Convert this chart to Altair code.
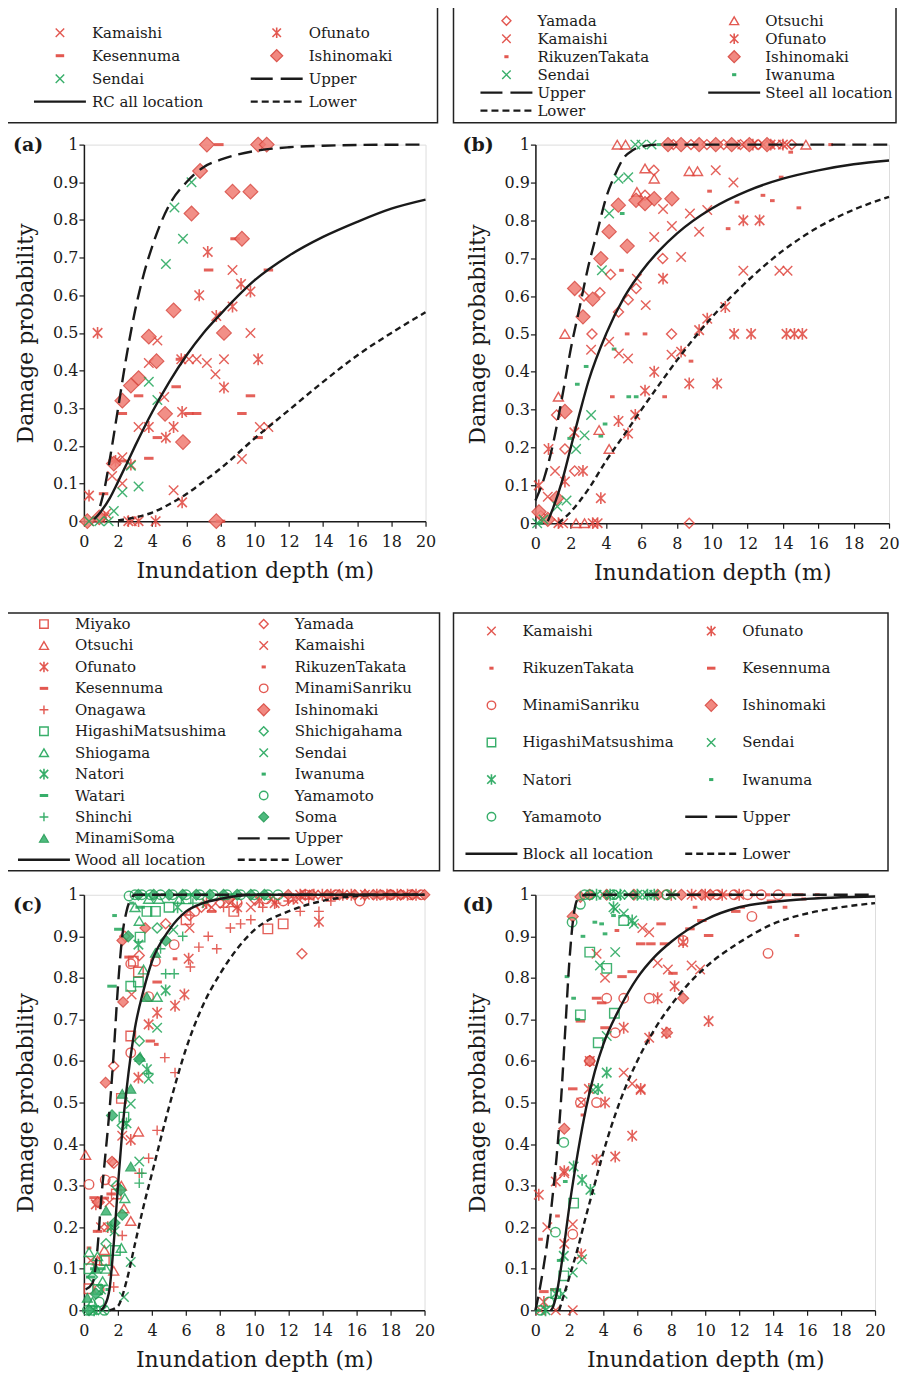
import altair as alt
import pandas as pd

FONT = "DejaVu Serif"
INK = "#1a1a1a"
RED = "#e0463e"
RED_D = "#d8453c"
RED_F = "#f07c73"
GREEN = "#22a65a"
GREEN_D = "#1f9a52"
GREEN_F = "#3cb371"

# ---------------- tick labels ----------------
X_TICKS = [0, 2, 4, 6, 8, 10, 12, 14, 16, 18, 20]
Y_TICKS = [0, 0.1, 0.2, 0.3, 0.4, 0.5, 0.6, 0.7, 0.8, 0.9, 1]

# ---------------- panel (a) RC ----------------
A_KAMAISHI = [(4.3,0.48),(3.8,0.42),(6.15,0.43),(6.6,0.43),(7.2,0.42),(8.2,0.43),(7.7,0.39),(8.7,0.667),(9.75,0.5),(9.25,0.165),(10.3,0.25),(10.8,0.25),(3.2,0.25),(4.7,0.33),(5.25,0.082),(2.25,0.1),(1.65,0.12),(2.25,0.17),(1.3,0.02),(0.3,0.0),(2.8,0.0)]
A_OFUNATO = [(7.25,0.715),(6.75,0.6),(7.75,0.545),(8.7,0.57),(9.2,0.63),(9.75,0.61),(10.2,0.43),(8.2,0.355),(5.7,0.43),(4.8,0.222),(5.25,0.25),(3.8,0.25),(5.75,0.05),(0.8,0.5),(0.3,0.068),(1.85,0.16),(2.6,0.0),(3.2,0.0),(4.2,0.0),(1.2,0.01),(5.75,0.29),(2.75,0.15)]
A_KESENNUMA = [(7.3,0.667),(8.85,0.75),(7.9,1.0),(9.75,0.333),(9.25,0.286),(5.4,0.357),(6.15,0.286),(6.6,0.286),(3.2,0.333),(2.25,0.286),(3.8,0.167),(4.3,0.222),(5.65,0.43),(1.7,0.16),(2.2,0.16),(10.8,0.667),(10.2,0.222),(1.15,0.073),(8.0,0.0)]
A_ISHINOMAKI = [(7.2,1.0),(10.2,1.0),(10.7,1.0),(6.8,0.93),(8.7,0.875),(9.75,0.875),(6.3,0.817),(9.25,0.75),(5.25,0.56),(8.2,0.5),(3.8,0.49),(4.25,0.425),(3.2,0.38),(2.75,0.36),(2.25,0.32),(4.75,0.285),(5.8,0.21),(1.75,0.153),(7.75,0.0),(0.9,0.01),(0.2,0.0)]
A_SENDAI = [(6.3,0.9),(5.3,0.833),(5.8,0.75),(4.8,0.683),(3.8,0.37),(4.3,0.322),(2.75,0.147),(2.25,0.077),(3.2,0.092),(1.75,0.027),(0.3,0.0),(0.9,0.0),(1.45,0.0)]

A_UP_X = [0.95, 1.2, 1.5, 2, 2.5, 3, 3.5, 4, 5, 6, 7, 8, 10, 12, 14, 16, 20]
A_UP_P = [0.04, 0.085, 0.16, 0.30, 0.44, 0.56, 0.655, 0.73, 0.84, 0.90, 0.94, 0.96, 0.983, 0.993, 0.997, 0.999, 1.0]
A_MID_X = [0.6, 1, 1.5, 2, 2.5, 3, 4, 5, 6, 7, 8, 10, 12, 14, 16, 18, 20]
A_MID_P = [0.005, 0.026, 0.06, 0.105, 0.152, 0.2, 0.29, 0.37, 0.44, 0.5, 0.55, 0.64, 0.705, 0.755, 0.795, 0.83, 0.854]
A_LOW_X = [2, 3, 4, 5, 6, 7, 8, 10, 12, 14, 16, 18, 20]
A_LOW_P = [0.002, 0.01, 0.023, 0.045, 0.072, 0.105, 0.14, 0.22, 0.295, 0.37, 0.44, 0.50, 0.555]

# ---------------- panel (b) Steel ----------------
B_YAMADA = [(6.7,0.932),(6.2,0.866),(7.2,0.699),(5.7,0.62),(5.25,0.59),(4.7,0.558),(7.7,0.5),(4.25,0.657),(3.65,0.609),(3.2,0.5),(2.75,0.6),(1.2,0.286),(1.67,0.196),(2.22,0.138),(8.7,0.0),(0.3,0.02),(7.8,1.0),(8.8,1.0),(9.7,1.0),(10.65,1.0),(11.6,1.0),(12.6,1.0),(14.5,1.0)]
B_OTSUCHI = [(4.63,1.0),(5.1,1.0),(6.2,0.937),(6.72,0.91),(8.7,0.93),(9.17,0.93),(5.74,0.875),(1.67,0.5),(1.3,0.334),(3.6,0.246),(4.17,0.196),(2.3,0.0),(2.78,0.0),(15.3,1.0)]
B_ISHINOMAKI = [(2.22,0.62),(3.24,0.592),(2.69,0.545),(3.7,0.699),(4.17,0.77),(5.19,0.732),(4.69,0.84),(5.69,0.853),(6.2,0.844),(6.72,0.857),(7.72,0.857),(1.67,0.295),(1.2,0.066),(0.2,0.03),(0.7,0.01),(7.5,1.0),(8.24,1.0),(9.26,1.0),(10.2,1.0),(11.1,1.0),(12.1,1.0),(13.1,1.0)]
B_KAMAISHI = [(10.2,0.932),(11.2,0.9),(7.22,0.83),(8.74,0.818),(9.72,0.827),(7.72,0.785),(9.26,0.77),(6.72,0.756),(8.24,0.703),(5.74,0.646),(6.24,0.576),(3.15,0.458),(4.17,0.479),(4.72,0.448),(5.24,0.435),(7.7,0.445),(11.76,0.667),(13.8,0.667),(14.26,0.667),(1.11,0.138),(0.7,0.07),(1.57,0.0),(11.7,1.0),(12.9,1.0),(13.6,1.0),(14.2,1.0)]
B_OFUNATO = [(11.76,0.8),(12.68,0.8),(7.22,0.646),(11.24,0.5),(12.2,0.5),(14.2,0.5),(14.65,0.5),(15.1,0.5),(10.74,0.571),(9.72,0.54),(9.26,0.51),(8.24,0.453),(6.72,0.4),(8.7,0.369),(10.28,0.369),(6.2,0.35),(5.65,0.286),(4.7,0.27),(5.24,0.237),(0.74,0.196),(2.69,0.138),(1.67,0.11),(0.19,0.1),(3.7,0.066),(2.2,0.24),(3.24,0.0),(3.52,0.0),(1.3,0.0),(12.3,1.0),(13.3,1.0),(14.0,1.0)]
B_RIKUZEN = [(9.85,0.877),(11.4,0.848),(12.87,0.866),(13.4,0.852),(13.9,0.914),(14.9,0.833),(10.9,0.778),(14.44,0.98),(16.7,1.0),(4.87,0.668),(5.19,0.5),(6.2,0.5),(4.35,0.334),(7.31,0.334),(8.8,0.428)]
B_SENDAI = [(4.7,0.91),(5.25,0.914),(4.17,0.818),(3.76,0.668),(3.15,0.286),(2.78,0.232),(2.3,0.196),(1.76,0.06),(1.24,0.044),(0.46,0.01),(0.1,0.0),(5.65,1.0),(6.0,1.0),(6.57,1.0)]
B_IWANUMA = [(4.91,0.818),(4.45,0.46),(2.87,0.414),(2.37,0.367),(5.28,0.334),(5.7,0.334),(3.94,0.262),(3.7,0.23),(1.94,0.224),(7.0,1.0),(0.3,0.0)]

B_UP_X = [0, 0.5, 1, 1.5, 2, 2.5, 3, 3.5, 4, 4.5, 5, 5.5, 6, 7, 10, 20]
B_UP_P = [0.06, 0.12, 0.21, 0.33, 0.46, 0.57, 0.68, 0.77, 0.86, 0.92, 0.965, 0.985, 0.995, 1.0, 1.0, 1.0]
B_MID_X = [0.7, 1, 1.5, 2, 2.5, 3, 4, 5, 6, 7, 8, 10, 12, 14, 16, 18, 20]
B_MID_P = [0.005, 0.04, 0.11, 0.2, 0.29, 0.375, 0.5, 0.595, 0.665, 0.72, 0.765, 0.832, 0.878, 0.91, 0.932, 0.948, 0.958]
B_LOW_X = [1.3, 2, 2.5, 3, 4, 5, 6, 7, 8, 9, 10, 12, 14, 16, 18, 20]
B_LOW_P = [0.0, 0.03, 0.058, 0.09, 0.165, 0.232, 0.3, 0.366, 0.43, 0.49, 0.545, 0.64, 0.72, 0.782, 0.828, 0.862]

# ---------------- panel (c) Wood ----------------
C_MIYAKO = [(10.8,0.918),(11.7,0.93),(3.2,0.814),(2.75,0.66),(2.2,0.51),(1.9,0.28),(0.3,0.052),(1.2,0.12),(2.9,0.84),(6.0,0.94),(8.8,0.96)]
C_OTSUCHI = [(0.1,0.374),(3.2,0.43),(2.75,0.215),(2.35,0.245),(1.75,0.095),(1.2,0.145),(2.2,0.3),(0.8,0.12)]
C_OFUNATO = [(3.8,0.688),(4.3,0.716),(5.35,0.733),(5.9,0.76),(3.2,0.56),(6.15,0.846),(13.8,0.935),(2.75,0.41),(0.7,0.255),(1.4,0.2),(7.2,0.98),(9.0,0.97),(10.3,0.985),(11.2,0.98),(12.3,0.99),(13.0,1.0),(14.0,1.0),(15.2,1.0),(16.5,1.0),(17.8,1.0),(19.0,1.0),(12.7,1.0),(13.5,1.0),(14.5,1.0),(15.7,1.0),(17.2,1.0),(18.4,1.0),(19.5,1.0)]
C_KESENNUMA = [(0.6,0.271),(1.2,0.27),(0.8,0.19),(2.65,0.85),(3.9,0.648),(1.6,0.28),(4.3,0.79),(7.5,0.96),(14.6,1.0),(15.6,1.0),(16.8,1.0),(18.0,1.0)]
C_ONAGAWA = [(4.75,0.608),(5.35,0.572),(4.3,0.433),(3.8,0.366),(3.25,0.33),(2.25,0.18),(1.75,0.056),(6.75,0.874),(6.25,0.826),(8.6,0.92),(9.2,0.93),(9.8,0.94),(12.7,0.96),(13.8,0.96),(7.8,0.87),(14.5,0.985),(7.3,0.9),(8.2,0.97),(10.5,0.97),(11.3,0.98),(12.0,0.985),(13.2,0.99)]
C_MINAMISANRIKU = [(0.3,0.303),(1.25,0.314),(2.75,0.62),(5.3,0.88),(16.2,0.985),(3.8,0.755),(4.2,0.84),(1.7,0.31),(2.75,0.834),(10.7,0.99),(19.2,1.0),(19.8,1.0),(0.9,0.05),(6.5,0.96),(9.0,0.98),(11.7,0.985),(13.0,1.0),(14.8,1.0),(18.0,1.0)]
C_YAMADA = [(12.8,0.858),(1.75,0.588),(3.25,0.854),(1.75,0.354),(4.8,0.93),(2.4,0.9),(18.6,1.0),(6.2,0.95),(0.9,0.26),(6.9,0.97),(8.0,0.98),(10.0,0.99)]
C_KAMAISHI = [(1.0,0.2),(2.25,0.42),(2.8,0.76),(1.5,0.26),(9.8,0.97),(7.5,0.97),(6.2,0.92),(0.4,0.12),(11.0,0.99),(8.6,0.98),(12.6,0.99)]
C_RIKUZEN = [(5.35,0.846),(4.25,0.64),(8.0,0.99),(12.5,1.0),(16.0,1.0),(0.3,0.15)]
C_ISHINOMAKI = [(2.25,0.89),(2.3,0.742),(1.65,0.358),(1.27,0.548),(0.8,0.26),(3.6,0.92),(17.4,1.0),(18.0,1.0),(18.6,1.0),(19.3,1.0),(20.0,1.0),(14.3,1.0),(15.0,1.0),(15.9,1.0),(8.5,0.99),(12.0,1.0),(13.4,1.0),(16.5,1.0),(17.0,1.0)]
C_HIGASHI = [(2.75,0.78),(3.3,0.898),(3.7,0.96),(4.2,0.96),(2.35,0.465),(1.85,0.144),(1.3,0.12),(3.2,0.79),(0.3,0.1),(0.8,0.05),(5.0,0.97),(6.0,0.99)]
C_SHIOGAMA = [(3.25,0.937),(4.3,0.754),(1.3,0.1),(0.8,0.13),(3.5,0.82),(2.2,0.15),(0.5,0.02),(2.4,0.27),(0.3,0.14),(1.1,0.07),(3.0,0.97),(3.8,0.99),(4.4,0.99),(5.6,0.99)]
C_NATORI = [(4.8,0.77),(3.7,0.58),(2.5,0.45),(1.6,0.2),(3.2,0.88),(5.5,0.97),(1.0,0.05),(0.6,0.0)]
C_WATARI = [(1.65,0.78),(2.05,0.917),(3.3,0.97),(1.0,0.1),(0.4,0.08),(3.6,1.0),(4.8,1.0),(6.2,1.0),(7.2,1.0),(8.8,1.0),(10.4,1.0)]
C_SHINCHI = [(3.25,0.306),(4.8,0.81),(5.3,0.81),(5.8,0.9),(3.8,0.57),(4.5,0.87),(3.4,0.33),(6.4,0.98),(7.0,0.98)]
C_MINAMISOMA = [(2.25,0.521),(2.75,0.533),(3.7,0.754),(4.2,0.86),(2.75,0.346),(1.3,0.24),(3.3,0.61),(0.7,0.1),(0.2,0.03)]
C_SHICHIGAHAMA = [(3.25,0.648),(2.25,0.445),(4.3,0.92),(1.9,0.3),(1.3,0.16),(0.5,0.08)]
C_SENDAI = [(3.8,0.557),(4.3,0.68),(2.75,0.116),(3.25,0.358),(2.35,0.032),(5.25,0.916),(2.75,0.497),(1.8,0.19),(0.5,0.0),(1.1,0.0)]
C_IWANUMA = [(1.8,0.95),(0.5,0.1),(2.8,0.98),(1.4,0.05)]
C_YAMAMOTO = [(2.65,0.997),(0.5,0.0),(0.2,0.0),(1.2,0.0),(0.9,0.02),(3.0,1.0),(3.4,1.0),(3.9,1.0),(4.5,1.0),(5.2,1.0),(6.0,1.0),(6.8,1.0),(7.6,1.0),(8.4,1.0),(9.2,1.0),(10.0,1.0),(10.8,1.0),(11.4,1.0)]
C_SOMA = [(1.65,0.469),(2.15,0.289),(3.25,0.604),(2.25,0.23),(1.8,0.21),(4.8,0.89),(2.6,0.9),(0.3,0.0),(0.7,0.04),(3.2,1.0),(4.1,1.0),(5.0,1.0),(5.8,1.0),(6.6,1.0),(7.4,1.0),(8.2,1.0),(9.0,1.0),(9.8,1.0),(10.6,1.0)]

C_UP_X = [0.1, 0.5, 0.8, 1, 1.25, 1.5, 1.75, 2, 2.25, 2.5, 2.75, 3, 4, 6, 10, 20]
C_UP_P = [0.05, 0.065, 0.15, 0.26, 0.37, 0.48, 0.62, 0.78, 0.9, 0.96, 0.99, 1.0, 1.0, 1.0, 1.0, 1.0]
C_MID_X = [1.0, 1.2, 1.5, 1.75, 2, 2.25, 2.5, 3, 3.5, 4, 5, 6, 7, 8, 10, 20]
C_MID_P = [0.0, 0.01, 0.05, 0.16, 0.3, 0.43, 0.53, 0.68, 0.77, 0.84, 0.915, 0.96, 0.98, 0.99, 1.0, 1.0]
C_LOW_X = [1.5, 2, 2.5, 3, 3.5, 4, 5, 6, 7, 8, 9, 10, 12, 14, 16, 18, 20]
C_LOW_P = [0.0, 0.01, 0.07, 0.16, 0.25, 0.33, 0.49, 0.63, 0.735, 0.81, 0.87, 0.915, 0.96, 0.985, 0.997, 1.0, 1.0]

# ---------------- panel (d) Block ----------------
D_KAMAISHI = [(6.3,0.92),(6.7,0.91),(3.6,0.858),(4.1,0.8),(7.2,0.836),(7.8,0.82),(5.2,0.572),(5.7,0.545),(1.7,0.33),(0.7,0.2),(2.2,0.207),(2.2,0.0),(9.2,0.83),(9.7,0.82),(6.2,0.53),(1.2,0.0),(0.3,0.0),(2.7,0.5)]
D_OFUNATO = [(0.2,0.278),(1.2,0.31),(1.7,0.335),(3.6,0.362),(4.7,0.37),(5.7,0.42),(2.7,0.135),(3.15,0.533),(4.1,0.5),(5.2,0.68),(6.7,0.656),(7.2,0.751),(8.2,0.78),(8.7,0.886),(10.2,0.696),(6.2,0.533),(3.2,0.6),(1.7,0.16),(0.5,0.02),(7.7,0.668),(8.0,1.0),(9.2,1.0),(10.0,1.0),(11.0,1.0),(12.0,1.0)]
D_RIKUZEN = [(15.4,0.902),(13.8,0.97),(14.7,0.97),(9.4,0.97),(12.2,0.97),(2.8,0.47),(0.3,0.171),(1.3,0.227),(4.8,0.914),(16.6,1.0),(15.8,0.99),(1.0,0.05),(12.8,1.0),(13.7,1.0)]
D_KESENNUMA = [(9.8,0.938),(10.2,0.902),(9.1,0.918),(8.1,0.811),(7.6,0.882),(6.8,0.882),(6.2,0.882),(5.1,0.803),(5.7,0.815),(3.6,0.751),(2.2,0.533),(2.65,0.696),(4.1,0.68),(11.8,0.96),(13.9,0.985),(3.9,0.74),(7.4,0.93),(0.5,0.045),(9.5,1.0),(10.5,1.0),(11.3,1.0),(14.8,1.0),(15.5,1.0)]
D_MINAMISANRIKU = [(12.75,0.948),(13.7,0.859),(8.7,0.89),(4.2,0.751),(5.2,0.751),(6.7,0.751),(3.6,0.5),(3.2,0.6),(2.65,0.5),(2.2,0.183),(7.7,1.0),(10.7,1.0),(11.7,1.0),(12.5,1.0),(13.3,1.0),(14.3,1.0),(4.7,0.668)]
D_ISHINOMAKI = [(2.2,0.948),(1.7,0.437),(8.7,0.751),(7.75,0.668),(3.2,0.6),(2.65,0.995),(3.2,1.0),(4.2,1.0),(5.8,1.0),(7.2,1.0),(8.6,1.0),(9.8,1.0),(10.3,1.0)]
D_HIGASHI = [(3.2,0.862),(4.2,0.823),(2.65,0.711),(4.65,0.715),(3.7,0.644),(2.25,0.258),(1.67,0.083),(5.2,0.938),(1.2,0.04)]
D_SENDAI = [(4.7,0.966),(5.2,0.955),(4.7,0.862),(3.8,0.83),(4.2,0.66),(2.2,0.091),(2.75,0.123),(5.8,0.93),(3.4,0.53),(1.6,0.04),(4.0,1.0),(4.8,1.0),(5.5,1.0),(6.3,1.0),(8.0,1.0)]
D_NATORI = [(5.7,0.938),(4.2,0.572),(3.7,0.533),(2.25,0.346),(2.75,0.314),(3.24,0.29),(1.67,0.131),(1.2,0.04),(4.6,0.97),(3.6,1.0),(4.4,1.0),(5.0,1.0),(6.0,1.0),(6.6,1.0),(7.0,1.0),(0.6,0.0)]
D_IWANUMA = [(3.5,0.934),(3.9,0.93),(4.1,0.906),(1.86,0.803),(2.25,0.751),(1.76,0.31),(1.4,0.12),(2.8,0.9),(4.6,0.95),(2.5,0.7),(3.0,1.0),(3.4,1.0),(5.3,1.0),(6.8,1.0),(8.3,1.0),(0.2,0.0)]
D_YAMAMOTO = [(2.65,0.977),(2.16,0.934),(1.67,0.404),(1.18,0.188),(3.2,1.0),(7.75,1.0),(0.3,0.0),(0.8,0.02),(2.9,1.0),(4.6,1.0)]

D_UP_X = [0, 0.25, 0.5, 0.75, 1, 1.25, 1.5, 1.75, 2, 2.25, 2.5, 3, 4, 6, 10, 20]
D_UP_P = [0.0, 0.05, 0.11, 0.18, 0.27, 0.37, 0.5, 0.67, 0.84, 0.95, 0.99, 1.0, 1.0, 1.0, 1.0, 1.0]
D_MID_X = [0.9, 1, 1.25, 1.5, 2, 2.5, 3, 3.5, 4, 5, 6, 7, 8, 10, 12, 14, 16, 18, 20]
D_MID_P = [0.0, 0.005, 0.04, 0.1, 0.25, 0.38, 0.49, 0.575, 0.64, 0.73, 0.8, 0.85, 0.887, 0.94, 0.97, 0.983, 0.99, 0.994, 0.996]
D_LOW_X = [1.4, 2, 2.5, 3, 3.5, 4, 5, 6, 7, 8, 9, 10, 12, 14, 16, 18, 20]
D_LOW_P = [0.0, 0.08, 0.15, 0.23, 0.305, 0.38, 0.505, 0.6, 0.675, 0.735, 0.785, 0.825, 0.885, 0.93, 0.955, 0.97, 0.98]

# ---------------- legend entries ----------------
LEG_A_LABELS = ["Kamaishi", "Ofunato", "Kesennuma", "Ishinomaki", "Sendai", "Upper", "RC all location", "Lower"]
LEG_A_COLS = [0, 1, 0, 1, 0, 1, 0, 1]
LEG_A_ROWS = [0, 0, 1, 1, 2, 2, 3, 3]
LEG_B_LABELS = ["Yamada", "Otsuchi", "Kamaishi", "Ofunato", "RikuzenTakata", "Ishinomaki", "Sendai", "Iwanuma", "Upper", "Steel all location", "Lower"]
LEG_B_COLS = [0, 1, 0, 1, 0, 1, 0, 1, 0, 1, 0]
LEG_B_ROWS = [0, 0, 1, 1, 2, 2, 3, 3, 4, 4, 5]
LEG_C_LABELS = ["Miyako", "Otsuchi", "Ofunato", "Kesennuma", "Onagawa", "HigashiMatsushima", "Shiogama", "Natori", "Watari", "Shinchi", "MinamiSoma", "Wood all location",
                "Yamada", "Kamaishi", "RikuzenTakata", "MinamiSanriku", "Ishinomaki", "Shichigahama", "Sendai", "Iwanuma", "Yamamoto", "Soma", "Upper", "Lower"]
LEG_C_COLS = [0] * 12 + [1] * 12
LEG_C_ROWS = list(range(12)) + list(range(12))
LEG_D_LABELS = ["Kamaishi", "Ofunato", "RikuzenTakata", "Kesennuma", "MinamiSanriku", "Ishinomaki", "HigashiMatsushima", "Sendai", "Natori", "Iwanuma", "Yamamoto", "Upper", "Block all location", "Lower"]
LEG_D_COLS = [0, 1] * 7
LEG_D_ROWS = [0, 0, 1, 1, 2, 2, 3, 3, 4, 4, 5, 5, 6, 6]

# ---------------- styles ----------------
XP = "M-1,-1L1,1M-1,1L1,-1"
AST = "M-1,-1L1,1M-1,1L1,-1M0,-1.25L0,1.25"
PLUS = "M-1.1,0H1.1M0,-1.1V1.1"
DASH = "M-1,0H1"


def mk(shape, color, size, sw=1.4, fill=None):
    d = dict(shape=shape, size=size, strokeWidth=sw, opacity=0.85)
    if fill:
        d.update(filled=True, fill=fill, stroke=color)
    else:
        d.update(filled=False, color=color)
    return d


STYLE = {
    "Kamaishi": mk(XP, RED, 90),
    "Ofunato": mk(AST, RED, 90, sw=1.6),
    "Kesennuma": mk(DASH, RED, 90, sw=3),
    "RikuzenTakata": mk(DASH, RED, 22, sw=3),
    "Ishinomaki": mk("diamond", RED_D, 180, sw=1.2, fill=RED_F),
    "Yamada": mk("diamond", RED, 100),
    "Otsuchi": mk("triangle-up", RED, 100),
    "Miyako": mk("square", RED, 90),
    "MinamiSanriku": mk("circle", RED, 90),
    "Onagawa": mk(PLUS, RED, 80),
    "Sendai": mk(XP, GREEN, 90),
    "Iwanuma": mk(DASH, GREEN, 22, sw=3),
    "HigashiMatsushima": mk("square", GREEN, 90),
    "Shiogama": mk("triangle-up", GREEN, 100),
    "Natori": mk(AST, GREEN, 90, sw=1.6),
    "Watari": mk(DASH, GREEN, 90, sw=3),
    "Shinchi": mk(PLUS, GREEN, 80),
    "MinamiSoma": mk("triangle-up", GREEN_D, 100, sw=1.2, fill=GREEN_F),
    "Shichigahama": mk("diamond", GREEN, 100),
    "Yamamoto": mk("circle", GREEN, 90),
    "Soma": mk("diamond", GREEN_D, 120, sw=1.2, fill=GREEN_F),
}
PLOT_DASH = {"Upper": [14, 7], "Lower": [6, 4]}
LEG_DASH = {"Upper": [22, 8], "Lower": [7, 4]}

AXX = alt.Axis(values=X_TICKS, title="Inundation depth (m)", grid=False, labelFlush=False, labelOverlap=False,
               domainColor=INK, domainWidth=1.5, tickColor=INK, tickWidth=1.2, tickSize=5,
               labelFont=FONT, labelFontSize=16, labelColor=INK, labelPadding=7,
               titleFont=FONT, titleFontSize=22, titleFontWeight="normal", titleColor=INK, titlePadding=11)
AXY = alt.Axis(values=Y_TICKS, format="~g", title="Damage probability", grid=False, labelOverlap=False,
               domainColor=INK, domainWidth=1.5, tickColor=INK, tickWidth=1.2, tickSize=5,
               labelFont=FONT, labelFontSize=16, labelColor=INK, labelPadding=1,
               titleFont=FONT, titleFontSize=22, titleFontWeight="normal", titleColor=INK, titlePadding=15)


def panel(series, curves, w, h, tag, tag_dx, tag_dy, diamond_size):
    xe = alt.X("x:Q", scale=alt.Scale(domain=[0, 20], nice=False), axis=AXX)
    ye = alt.Y("p:Q", scale=alt.Scale(domain=[0, 1], nice=False), axis=AXY)
    layers = []
    for loc, pts in series:
        st = dict(STYLE[loc])
        if loc == "Ishinomaki":
            st["size"] = diamond_size
        df = pd.DataFrame(pts, columns=["x", "p"])
        layers.append(alt.Chart(df).mark_point(**st).encode(x=xe, y=ye))
    for kind, xs, ps in curves:
        kw = dict(color=INK, strokeWidth=2.4, interpolate="monotone")
        if kind in PLOT_DASH:
            kw["strokeDash"] = PLOT_DASH[kind]
        df = pd.DataFrame({"x": xs, "p": ps})
        layers.append(alt.Chart(df).mark_line(**kw).encode(x=xe, y=ye))
    # panel tag, anchored at the plot's top-left data corner (x=0, p=1)
    tdf = pd.DataFrame({"x": [0], "p": [1], "tag": [tag]})
    layers.append(alt.Chart(tdf).mark_text(
        align="left", baseline="middle", dx=tag_dx, dy=tag_dy, font=FONT, fontSize=19,
        fontWeight="bold", color=INK).encode(x=xe, y=ye, text="tag:N"))
    return alt.layer(*layers).properties(width=w, height=h)


def legend(labels, cols, rows, w, h, xr, yr, dx):
    nrows = max(rows) + 1
    xe = alt.X("col:Q", scale=alt.Scale(domain=[0, 1], range=xr, nice=False, zero=False), axis=None)
    ye = alt.Y("row:Q", scale=alt.Scale(domain=[0, nrows - 1], range=yr, nice=False, zero=False), axis=None)
    layers = []
    for lab, c, r in zip(labels, cols, rows):
        df = pd.DataFrame({"col": [c], "row": [r]})
        if lab in STYLE:
            st = dict(STYLE[lab])
            st["size"] = st["size"] * 0.8
            st["opacity"] = 0.9
        else:
            st = dict(shape=DASH, size=52 * 52, filled=False, color=INK, strokeWidth=2.4, opacity=1)
            if lab in LEG_DASH:
                st["strokeDash"] = LEG_DASH[lab]
        layers.append(alt.Chart(df).mark_point(**st).encode(x=xe, y=ye))
    tdf = pd.DataFrame({"label": labels, "col": cols, "row": rows})
    layers.append(alt.Chart(tdf).mark_text(align="left", baseline="middle", dx=dx, font=FONT,
                                           fontSize=15, color=INK).encode(x=xe, y=ye, text="label:N"))
    return alt.layer(*layers).properties(width=w, height=h,
                                         view=alt.ViewBackground(stroke="#222222", strokeWidth=1.5))


def spacer():
    return alt.Chart(pd.DataFrame({"v": [0]})).mark_point(size=1, opacity=0).properties(width=1, height=1)


plot_a = panel([("Kesennuma", A_KESENNUMA), ("Kamaishi", A_KAMAISHI), ("Ofunato", A_OFUNATO),
                ("Ishinomaki", A_ISHINOMAKI), ("Sendai", A_SENDAI)],
               [("Upper", A_UP_X, A_UP_P), ("Mid", A_MID_X, A_MID_P), ("Lower", A_LOW_X, A_LOW_P)],
               342, 377, "(a)", -71, 0, 215)
plot_b = panel([("RikuzenTakata", B_RIKUZEN), ("Iwanuma", B_IWANUMA), ("Yamada", B_YAMADA),
                ("Otsuchi", B_OTSUCHI), ("Kamaishi", B_KAMAISHI), ("Ofunato", B_OFUNATO),
                ("Ishinomaki", B_ISHINOMAKI), ("Sendai", B_SENDAI)],
               [("Upper", B_UP_X, B_UP_P), ("Mid", B_MID_X, B_MID_P), ("Lower", B_LOW_X, B_LOW_P)],
               354, 379, "(b)", -73, 0, 200)
plot_c = panel([("Kesennuma", C_KESENNUMA), ("RikuzenTakata", C_RIKUZEN), ("Miyako", C_MIYAKO),
                ("Otsuchi", C_OTSUCHI), ("Ofunato", C_OFUNATO), ("Onagawa", C_ONAGAWA),
                ("MinamiSanriku", C_MINAMISANRIKU), ("Yamada", C_YAMADA), ("Kamaishi", C_KAMAISHI),
                ("Ishinomaki", C_ISHINOMAKI), ("HigashiMatsushima", C_HIGASHI), ("Shiogama", C_SHIOGAMA),
                ("Natori", C_NATORI), ("Watari", C_WATARI), ("Shinchi", C_SHINCHI),
                ("MinamiSoma", C_MINAMISOMA), ("Shichigahama", C_SHICHIGAHAMA), ("Sendai", C_SENDAI),
                ("Iwanuma", C_IWANUMA), ("Yamamoto", C_YAMAMOTO), ("Soma", C_SOMA)],
               [("Upper", C_UP_X, C_UP_P), ("Mid", C_MID_X, C_MID_P), ("Lower", C_LOW_X, C_LOW_P)],
               341, 416, "(c)", -71, 10, 110)
plot_d = panel([("Kesennuma", D_KESENNUMA), ("RikuzenTakata", D_RIKUZEN), ("Kamaishi", D_KAMAISHI),
                ("Ofunato", D_OFUNATO), ("MinamiSanriku", D_MINAMISANRIKU), ("Ishinomaki", D_ISHINOMAKI),
                ("HigashiMatsushima", D_HIGASHI), ("Sendai", D_SENDAI), ("Natori", D_NATORI),
                ("Iwanuma", D_IWANUMA), ("Yamamoto", D_YAMAMOTO)],
               [("Upper", D_UP_X, D_UP_P), ("Mid", D_MID_X, D_MID_P), ("Lower", D_LOW_X, D_LOW_P)],
               340, 416, "(d)", -73, 10, 120)

leg_a = legend(LEG_A_LABELS, LEG_A_COLS, LEG_A_ROWS, 433, 116, [55, 272], [26, 95], 32)
leg_b = legend(LEG_B_LABELS, LEG_B_COLS, LEG_B_ROWS, 443, 116, [53, 281], [14, 104], 31)
leg_c = legend(LEG_C_LABELS, LEG_C_COLS, LEG_C_ROWS, 435, 258, [39, 259], [11, 247], 31)
leg_d = legend(LEG_D_LABELS, LEG_D_COLS, LEG_D_ROWS, 435, 258, [38, 258], [18, 241], 31)

row1 = alt.hconcat(leg_a, leg_b, spacing=14)
row2 = alt.hconcat(alt.hconcat(spacer(), plot_a, spacing=6), plot_b, spacing=25)
row3 = alt.hconcat(leg_c, leg_d, spacing=12)
row4 = alt.hconcat(alt.hconcat(spacer(), plot_c, spacing=6), plot_d, spacing=26)

top = alt.vconcat(row1, row2, spacing=10)
bot = alt.vconcat(row3, row4, spacing=13)
chart = alt.vconcat(top, bot, spacing=28).properties(
    padding={"left": -4, "top": -3, "right": 0, "bottom": 0}
).configure_view(strokeWidth=0).configure(font=FONT, background="white")

chart.save("out.html", embed_options={"renderer": "svg", "actions": False})
